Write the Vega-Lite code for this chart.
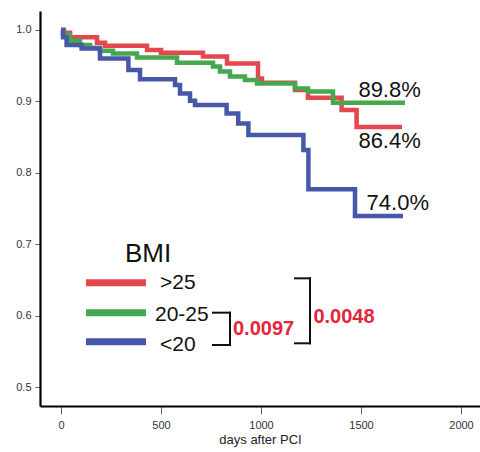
{
  "$schema": "https://vega.github.io/schema/vega-lite/v6.json",
  "autosize": "none",
  "width": 440,
  "height": 395,
  "padding": {"left": 40, "top": 11, "right": 0, "bottom": 46},
  "background": "white",
  "config": {
    "view": {"stroke": null},
    "font": "Liberation Sans",
    "axis": {"grid": false, "domainColor": "#000", "domainWidth": 2.2, "tickColor": "#666", "labelColor": "#333", "labelFont": "Liberation Sans", "labelFontSize": 11}
  },
  "datasets": {
    "curves": [
      {"group": ">25", "day": 0, "surv": 1.0},
      {"group": ">25", "day": 10, "surv": 0.996},
      {"group": ">25", "day": 45, "surv": 0.99},
      {"group": ">25", "day": 180, "surv": 0.982},
      {"group": ">25", "day": 220, "surv": 0.978},
      {"group": ">25", "day": 430, "surv": 0.972},
      {"group": ">25", "day": 500, "surv": 0.968},
      {"group": ">25", "day": 710, "surv": 0.963},
      {"group": ">25", "day": 830, "surv": 0.953},
      {"group": ">25", "day": 985, "surv": 0.932},
      {"group": ">25", "day": 1005, "surv": 0.926},
      {"group": ">25", "day": 1170, "surv": 0.916},
      {"group": ">25", "day": 1235, "surv": 0.905},
      {"group": ">25", "day": 1403, "surv": 0.888},
      {"group": ">25", "day": 1478, "surv": 0.864},
      {"group": ">25", "day": 1705, "surv": 0.864},
      {"group": "20-25", "day": 0, "surv": 1.0},
      {"group": "20-25", "day": 15, "surv": 0.993},
      {"group": "20-25", "day": 45, "surv": 0.985},
      {"group": "20-25", "day": 95, "surv": 0.979},
      {"group": "20-25", "day": 145, "surv": 0.975},
      {"group": "20-25", "day": 195, "surv": 0.971},
      {"group": "20-25", "day": 260, "surv": 0.967},
      {"group": "20-25", "day": 380, "surv": 0.9615},
      {"group": "20-25", "day": 580, "surv": 0.954},
      {"group": "20-25", "day": 760, "surv": 0.949},
      {"group": "20-25", "day": 795, "surv": 0.942},
      {"group": "20-25", "day": 845, "surv": 0.935},
      {"group": "20-25", "day": 920, "surv": 0.93},
      {"group": "20-25", "day": 980, "surv": 0.925},
      {"group": "20-25", "day": 1170, "surv": 0.918},
      {"group": "20-25", "day": 1235, "surv": 0.914},
      {"group": "20-25", "day": 1360, "surv": 0.898},
      {"group": "20-25", "day": 1720, "surv": 0.898},
      {"group": "<20", "day": 0, "surv": 1.0},
      {"group": "<20", "day": 10, "surv": 0.99},
      {"group": "<20", "day": 28, "surv": 0.979},
      {"group": "<20", "day": 103, "surv": 0.974},
      {"group": "<20", "day": 195, "surv": 0.96},
      {"group": "<20", "day": 337, "surv": 0.944},
      {"group": "<20", "day": 395, "surv": 0.931},
      {"group": "<20", "day": 570, "surv": 0.923},
      {"group": "<20", "day": 595, "surv": 0.911},
      {"group": "<20", "day": 645, "surv": 0.901},
      {"group": "<20", "day": 670, "surv": 0.895},
      {"group": "<20", "day": 828, "surv": 0.883},
      {"group": "<20", "day": 886, "surv": 0.869},
      {"group": "<20", "day": 937, "surv": 0.853},
      {"group": "<20", "day": 1212, "surv": 0.832},
      {"group": "<20", "day": 1237, "surv": 0.777},
      {"group": "<20", "day": 1470, "surv": 0.7395},
      {"group": "<20", "day": 1710, "surv": 0.7395}
    ],
    "pct": [
      {"label": "89.8%", "day": 1487, "surv": 0.9066},
      {"label": "86.4%", "day": 1487, "surv": 0.8343},
      {"label": "74.0%", "day": 1528, "surv": 0.7479}
    ],
    "legendLines": [
      {"group": ">25", "d1": 125, "d2": 425, "surv": 0.6461},
      {"group": "20-25", "d1": 125, "d2": 425, "surv": 0.6041},
      {"group": "<20", "d1": 125, "d2": 425, "surv": 0.5635}
    ],
    "legendLabels": [
      {"label": ">25", "day": 495, "surv": 0.6368},
      {"label": "20-25", "day": 470, "surv": 0.5929},
      {"label": "<20", "day": 495, "surv": 0.5508}
    ],
    "title": [{"label": "BMI", "day": 320, "surv": 0.6755}],
    "brackets": [
      {"d1": 760, "d2": 845, "s1": 0.6041, "s2": 0.6041},
      {"d1": 845, "d2": 845, "s1": 0.6041, "s2": 0.5588},
      {"d1": 760, "d2": 845, "s1": 0.5588, "s2": 0.5588},
      {"d1": 1170, "d2": 1245, "s1": 0.6522, "s2": 0.6522},
      {"d1": 1245, "d2": 1245, "s1": 0.6522, "s2": 0.5612},
      {"d1": 1170, "d2": 1245, "s1": 0.5612, "s2": 0.5612}
    ],
    "pvals": [
      {"label": "0.0097", "day": 860, "surv": 0.5728},
      {"label": "0.0048", "day": 1262, "surv": 0.59}
    ]
  },
  "layer": [
    {
      "data": {"name": "curves"},
      "mark": {"type": "line", "interpolate": "step-after", "strokeWidth": 4.5, "strokeCap": "butt"},
      "encoding": {
        "x": {"field": "day", "type": "quantitative", "scale": {"domain": [-105, 2095], "nice": false, "zero": false},
          "axis": {"values": [0, 500, 1000, 1500, 2000], "format": "d", "tickSize": 8, "labelPadding": 5, "title": "days after PCI", "titleFontSize": 13, "titleFontWeight": "normal", "titleColor": "#222", "titlePadding": 3}},
        "y": {"field": "surv", "type": "quantitative", "scale": {"domain": [0.4734, 1.0266], "nice": false, "zero": false},
          "axis": {"values": [0.5, 0.6, 0.7, 0.8, 0.9, 1.0], "format": ".1f", "tickSize": 5, "labelPadding": 4, "title": null}},
        "color": {"field": "group", "type": "nominal", "scale": {"domain": [">25", "20-25", "<20"], "range": ["#e4474e", "#46a84e", "#4858a8"]}, "legend": null},
        "order": {"field": "day", "type": "quantitative"}
      }
    },
    {
      "data": {"name": "legendLines"},
      "mark": {"type": "rule", "strokeWidth": 7},
      "encoding": {
        "x": {"field": "d1", "type": "quantitative"},
        "x2": {"field": "d2"},
        "y": {"field": "surv", "type": "quantitative"},
        "color": {"field": "group", "type": "nominal", "legend": null}
      }
    },
    {
      "data": {"name": "legendLabels"},
      "mark": {"type": "text", "align": "left", "baseline": "alphabetic", "fontSize": 21, "color": "#111"},
      "encoding": {
        "x": {"field": "day", "type": "quantitative"},
        "y": {"field": "surv", "type": "quantitative"},
        "text": {"field": "label"}
      }
    },
    {
      "data": {"name": "title"},
      "mark": {"type": "text", "align": "left", "baseline": "alphabetic", "fontSize": 26, "color": "#111"},
      "encoding": {
        "x": {"field": "day", "type": "quantitative"},
        "y": {"field": "surv", "type": "quantitative"},
        "text": {"field": "label"}
      }
    },
    {
      "data": {"name": "brackets"},
      "mark": {"type": "rule", "strokeWidth": 2, "color": "#111", "strokeCap": "square"},
      "encoding": {
        "x": {"field": "d1", "type": "quantitative"},
        "x2": {"field": "d2"},
        "y": {"field": "s1", "type": "quantitative"},
        "y2": {"field": "s2"}
      }
    },
    {
      "data": {"name": "pvals"},
      "mark": {"type": "text", "align": "left", "baseline": "alphabetic", "fontSize": 20, "fontWeight": "bold", "color": "#e3263a"},
      "encoding": {
        "x": {"field": "day", "type": "quantitative"},
        "y": {"field": "surv", "type": "quantitative"},
        "text": {"field": "label"}
      }
    },
    {
      "data": {"name": "pct"},
      "mark": {"type": "text", "align": "left", "baseline": "alphabetic", "fontSize": 22, "color": "#111"},
      "encoding": {
        "x": {"field": "day", "type": "quantitative"},
        "y": {"field": "surv", "type": "quantitative"},
        "text": {"field": "label"}
      }
    }
  ]
}
